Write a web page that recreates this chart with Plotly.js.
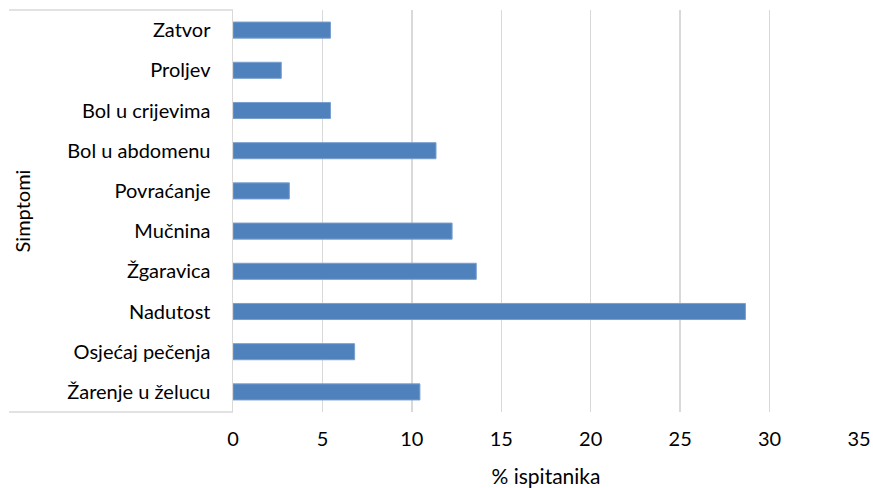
<!DOCTYPE html>
<html>
<head>
<meta charset="utf-8">
<script src="https://cdn.plot.ly/plotly-3.0.1.min.js"></script>
<style>html,body{margin:0;padding:0;background:#fff;}#chart{width:873px;height:488px;}</style>
</head>
<body>
<div id="chart"></div>
<script>
const categories = ["Žarenje u želucu", "Osjećaj pečenja", "Nadutost", "Žgaravica", "Mučnina", "Povraćanje", "Bol u abdomenu", "Bol u crijevima", "Proljev", "Zatvor"];
const values = [10.45, 6.8, 28.65, 13.6, 12.25, 3.15, 11.35, 5.45, 2.7, 5.45];
const xTicks = [0, 5, 10, 15, 20, 25, 30, 35];

const W = 873, H = 488;
const m = {l: 233, r: 14, t: 10, b: 76};
const plotW = W - m.l - m.r;
const frameLeft = (9 - m.l) / plotW;
const gridCol = '#d9d9d9';
const font = 'Lato, "Open Sans", sans-serif';

const trace = {
  type: 'bar',
  orientation: 'h',
  y: categories,
  x: values,
  width: 0.4,
  marker: {color: '#4F81BD', line: {color: '#7A9FCF', width: 1}},
  hoverinfo: 'x+y'
};

const layout = {
  width: W, height: H,
  margin: m,
  paper_bgcolor: '#fff',
  plot_bgcolor: '#fff',
  showlegend: false,
  font: {family: font, size: 20, color: '#000'},
  xaxis: {
    range: [0, 35],
    tickvals: xTicks,
    ticktext: xTicks.map(String),
    showgrid: true,
    gridcolor: gridCol,
    gridwidth: 1.5,
    zeroline: false,
    showline: false,
    ticks: '',
    ticklabelstandoff: 13,
    tickfont: {family: font, size: 20, color: '#000'},
    title: {text: '% ispitanika', font: {family: font, size: 21, color: '#000'}, standoff: 22}
  },
  yaxis: {
    type: 'category',
    categoryorder: 'array',
    categoryarray: categories,
    range: [-0.5, categories.length - 0.5],
    showgrid: false,
    zeroline: false,
    showline: true,
    linecolor: gridCol,
    linewidth: 1.5,
    ticks: '',
    ticklabelstandoff: 17,
    tickfont: {family: font, size: 20, color: '#000'},
    title: {text: 'Simptomi', font: {family: font, size: 20, color: '#000'}, standoff: 31}
  },
  shapes: [
    {type: 'line', xref: 'paper', yref: 'paper', x0: frameLeft, x1: 0, y0: 1, y1: 1, line: {color: gridCol, width: 1.5}},
    {type: 'line', xref: 'paper', yref: 'paper', x0: frameLeft, x1: 0, y0: 0, y1: 0, line: {color: gridCol, width: 1.5}}
  ]
};

Plotly.newPlot('chart', [trace], layout, {displayModeBar: false, staticPlot: true});
</script>
</body>
</html>
